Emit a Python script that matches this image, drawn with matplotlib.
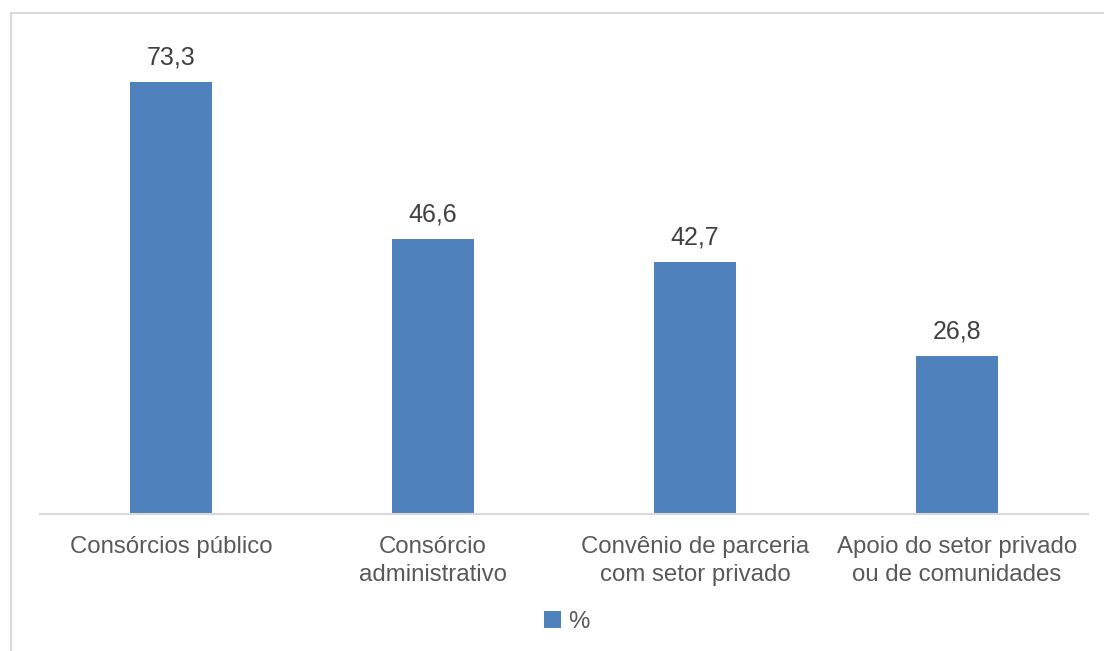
import matplotlib.pyplot as plt
from matplotlib.lines import Line2D

plt.rcParams['font.family'] = ['Liberation Sans', 'DejaVu Sans']

categorias = ['Consórcios público', 'Consórcio\nadministrativo',
              'Convênio de parceria\ncom setor privado',
              'Apoio do setor privado\nou de comunidades']
valores = [73.3, 46.6, 42.7, 26.8]
rotulos = ['73,3', '46,6', '42,7', '26,8']

W, H = 1104, 651
fig = plt.figure(figsize=(W / 100, H / 100), dpi=100)

# area do grafico em pixels
x0, x1 = 40, 1088
y_base, y_top = 514, 42
ax = fig.add_axes([x0 / W, 1 - y_base / H, (x1 - x0) / W, (y_base - y_top) / H])

barras = ax.bar(range(len(valores)), valores, width=0.313, color='#4f81bd', label='%')
ax.set_xlim(-0.5, len(valores) - 0.5)
ax.set_ylim(0, 80)

for b, r in zip(barras, rotulos):
    ax.annotate(r, (b.get_x() + b.get_width() / 2, b.get_height()),
                xytext=(0, 9), textcoords='offset points',
                ha='center', va='bottom', fontsize=18, color='#404040')

ax.set_xticks(range(len(valores)))
ax.set_xticklabels(categorias, fontsize=17.3, color='#595959', linespacing=1.33)
ax.tick_params(axis='x', length=0, pad=16)
ax.set_yticks([])
for s in ['top', 'right', 'left']:
    ax.spines[s].set_visible(False)
ax.spines['bottom'].set_color('#d9d9d9')
ax.spines['bottom'].set_linewidth(1.5)

ax.legend(loc='center', bbox_to_anchor=(567 / W, 1 - 622 / H),
          bbox_transform=fig.transFigure, frameon=False, fontsize=17.3,
          handlelength=0.7, handleheight=0.7, handletextpad=0.3,
          labelcolor='#595959')

# moldura do grafico
fig.add_artist(Line2D([11 / W, 11 / W], [0, 1 - 13 / H], transform=fig.transFigure,
                      color='#d9d9d9', lw=1.5))
fig.add_artist(Line2D([11 / W, 1], [1 - 13 / H, 1 - 13 / H], transform=fig.transFigure,
                      color='#d9d9d9', lw=1.5))

fig.savefig('out.png', dpi=100, facecolor='white')
